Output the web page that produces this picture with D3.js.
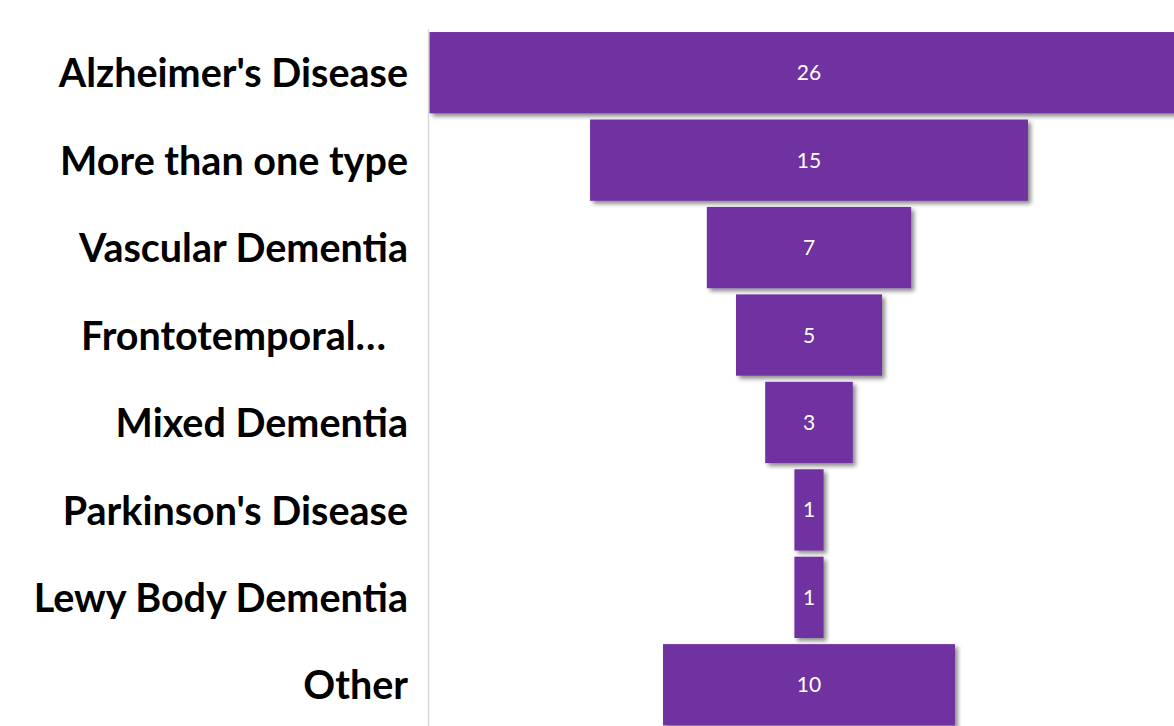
<!DOCTYPE html>
<html>
<head>
<meta charset="utf-8">
<script src="https://cdn.jsdelivr.net/npm/d3@7"></script>
<style>
  html, body { margin: 0; padding: 0; background: #fff; overflow: hidden; }
  svg { display: block; }
</style>
</head>
<body>
<svg id="chart" width="1174" height="726"></svg>
<script>
// Dementia types and counts, funnel order
const categories = [
  "Alzheimer's Disease",
  "More than one type",
  "Vascular Dementia",
  "Frontotemporal…",
  "Mixed Dementia",
  "Parkinson's Disease",
  "Lewy Body Dementia",
  "Other"
];
const counts = [26, 15, 7, 5, 3, 1, 1, 10];

const W = 1174, H = 726;
const plotLeft = 429.5, plotWidth = 759;   // widest bar spans the plot area
const plotTop = 29, plotHeight = 699.5;
const centerX = plotLeft + plotWidth / 2;
const labelRight = 408;
const barColor = "#7030A0";

const svg = d3.select("#chart");

// Soft drop shadow under each bar
const defs = svg.append("defs");
const f = defs.append("filter").attr("id", "shadow")
  .attr("x", "-10%").attr("y", "-20%").attr("width", "130%").attr("height", "150%");
f.append("feDropShadow")
  .attr("dx", 3).attr("dy", 3).attr("stdDeviation", 2.2)
  .attr("flood-color", "#000").attr("flood-opacity", 0.45);

const y = d3.scaleBand()
  .domain(categories)
  .range([plotTop, plotTop + plotHeight])
  .paddingInner(0.07)
  .paddingOuter(0.035);

const w = d3.scaleLinear()
  .domain([0, d3.max(counts)])
  .range([0, plotWidth]);

const data = categories.map((c, i) => ({ cat: c, value: counts[i] }));

// Vertical category axis line
svg.append("line")
  .attr("x1", plotLeft - 1).attr("x2", plotLeft - 1)
  .attr("y1", plotTop).attr("y2", H)
  .attr("stroke", "#d9d9d9").attr("stroke-width", 1.5);

// Funnel bars, centred on the plot
svg.append("g").selectAll("rect")
  .data(data)
  .join("rect")
  .attr("x", d => centerX - w(d.value) / 2)
  .attr("y", d => y(d.cat))
  .attr("width", d => w(d.value))
  .attr("height", y.bandwidth())
  .attr("fill", barColor)
  .attr("filter", "url(#shadow)");

// Value labels inside the bars
svg.append("g").selectAll("text")
  .data(data)
  .join("text")
  .attr("x", centerX)
  .attr("y", d => y(d.cat) + y.bandwidth() / 2)
  .attr("dy", "0.36em")
  .attr("text-anchor", "middle")
  .attr("fill", "#fff")
  .style("font-family", "Lato, 'Open Sans', sans-serif")
  .style("font-size", "21px")
  .text(d => d.value);

// Category labels
svg.append("g").selectAll("text")
  .data(data)
  .join("text")
  .attr("x", d => d.cat.endsWith("…") ? labelRight - 22 : labelRight)
  .attr("y", d => y(d.cat) + y.bandwidth() / 2)
  .attr("dy", "0.37em")
  .attr("text-anchor", "end")
  .attr("fill", "#000")
  .style("font-family", "Lato, 'Open Sans', sans-serif")
  .style("font-weight", "bold")
  .style("font-size", "39.5px")
  .text(d => d.cat);
</script>
</body>
</html>
